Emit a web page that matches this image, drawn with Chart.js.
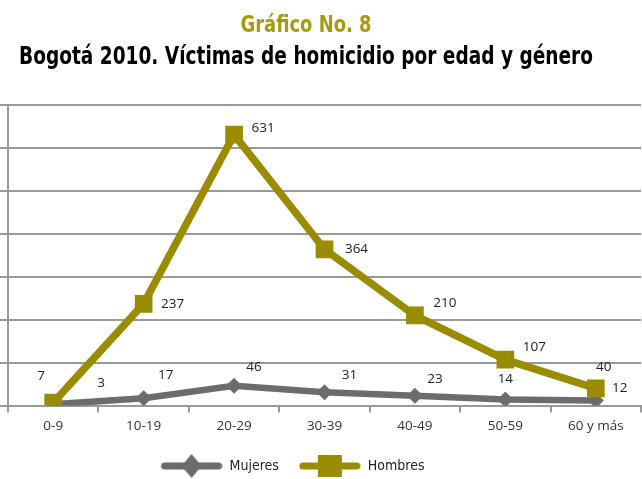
<!DOCTYPE html>
<html>
<head>
<meta charset="utf-8">
<script src="https://cdn.jsdelivr.net/npm/chart.js@4.4.0/dist/chart.umd.min.js"></script>
<style>
body{margin:0;background:#fff;}
#wrap{position:relative;width:642px;height:479px;}
.tit{position:absolute;left:306px;font-family:"DejaVu Sans Condensed","DejaVu Sans";font-stretch:condensed;font-weight:bold;line-height:1;white-space:nowrap;transform-origin:50% 50%;}
#t1{top:13px;font-size:23.5px;color:#a79b0b;}
#t2{top:43px;font-size:25px;color:#000;}
canvas{position:absolute;left:0;top:0;}
</style>
</head>
<body>
<div id="wrap">
<canvas id="grafico" width="642" height="479"></canvas>
<div class="tit" id="t1">Gráfico No. 8</div>
<div class="tit" id="t2">Bogotá 2010. Víctimas de homicidio por edad y género</div>
</div>
<script>
// datos
let edades = ['0-9','10-19','20-29','30-39','40-49','50-59','60 y más'];
let mujeres = [3,17,46,31,23,14,12];
let hombres = [7,237,631,364,210,107,40];
let escalaY = [0,700,100]; // min, max, paso

let colorMujeres = '#6b6b70';
let colorHombres = '#9a8c00';

// desplazamiento de las etiquetas respecto al punto (como en Excel)
let despMujeres = [[48,-21],[22,-23],[20,-19],[25,-17],[20,-17],[0,-20],[24,-12]];
let despHombres = [[-12,-26],[29,0],[29,-6],[32,0],[30,-12],[29,-12],[8,-21]];

// ajustar el ancho de los titulos (fuente condensada), centrados en x=306
function ajustarTitulo(id, ancho){
    let s = document.getElementById(id);
    let w = s.getBoundingClientRect().width;
    s.style.transform = 'translateX(-50%) scaleX(' + (ancho/w) + ')';
}
ajustarTitulo('t1', 131);
ajustarTitulo('t2', 574);

// marca de la leyenda: linea con el simbolo en el medio (con hueco a la izquierda)
function marcaLeyenda(color, forma){
    let c = document.createElement('canvas');
    c.width = 76; c.height = 26;
    let g = c.getContext('2d');
    g.translate(14,0);
    g.strokeStyle = color; g.lineWidth = 7; g.lineCap = 'round';
    g.beginPath(); g.moveTo(4,13); g.lineTo(58,13); g.stroke();
    g.fillStyle = color;
    if(forma=='rect'){
        g.fillRect(19,2,24,22);
    } else {
        g.beginPath(); g.moveTo(31,1); g.lineTo(41,13); g.lineTo(31,25); g.lineTo(21,13); g.closePath(); g.fill();
    }
    return c;
}

var etiquetas = {
    id:'etiquetas',
    afterLayout(chart){
        // la leyenda del original esta corrida a la izquierda y un poco mas abajo
        chart.legend.left -= 35;
        chart.legend.right -= 35;
        chart.legend.top += 4;
        chart.legend.bottom += 4;
    },
    afterDatasetsDraw(chart, args, opts){
        let ctx = chart.ctx;
        ctx.save();
        ctx.font = '13.5px "Open Sans"';
        ctx.fillStyle = '#222';
        ctx.textAlign = 'center';
        ctx.textBaseline = 'middle';
        chart.data.datasets.forEach(function(ds,i){
            let meta = chart.getDatasetMeta(i);
            meta.data.forEach(function(p,j){
                let d = opts.desp[i][j];
                ctx.fillText(ds.data[j], p.x + d[0], p.y + d[1]);
            });
        });
        ctx.restore();
    }
};

var ctx = document.getElementById('grafico').getContext('2d');
var grafico = new Chart(ctx, {
    type: 'line',
    data: {
        labels: edades,
        datasets: [{
            label: 'Mujeres',
            data: mujeres,
            borderColor: colorMujeres,
            backgroundColor: colorMujeres,
            borderWidth: 6.5,
            pointStyle: 'rectRot',
            pointRadius: 8,
            pointBorderWidth: 0,
            order: 1,
            tension: 0
        },{
            label: 'Hombres',
            data: hombres,
            borderColor: colorHombres,
            backgroundColor: colorHombres,
            borderWidth: 7.5,
            pointStyle: 'rect',
            pointRadius: 12.5,
            pointBorderWidth: 0,
            order: 0,
            tension: 0
        }]
    },
    options: {
        responsive: false,
        animation: false,
        layout: { autoPadding: false, padding: { top: 105, right: 1, left: 0, bottom: 0 } },
        scales: {
            x: {
                offset: true,
                afterFit: function(s){ s.paddingLeft = 0; s.paddingRight = 0; },
                grid: { display: true, drawOnChartArea: false, drawTicks: true, tickLength: 7, color: '#999', lineWidth: 2, offset: true },
                border: { color: '#999', width: 2 },
                ticks: { color: '#333', font: { family: 'Open Sans', size: 13.5 }, padding: 5, maxRotation: 0 },
                title: { display: true, text: ' ', font: { size: 1 }, padding: { top: 0, bottom: 9 } }
            },
            y: {
                min: escalaY[0], max: escalaY[1],
                ticks: { display: false, stepSize: escalaY[2] },
                grid: { color: '#999', lineWidth: 2, tickLength: 8 },
                border: { color: '#999', width: 2 }
            }
        },
        plugins: {
            tooltip: { enabled: false },
            etiquetas: { desp: [despMujeres, despHombres] },
            legend: {
                position: 'bottom',
                labels: {
                    usePointStyle: true,
                    pointStyleWidth: 76,
                    padding: 6,
                    color: '#222',
                    font: { family: 'DejaVu Sans Condensed', size: 14 },
                    generateLabels: function(chart){
                        return chart.data.datasets.map(function(ds,i){
                            return { text: ds.label, datasetIndex: i, fontColor: '#222', lineWidth: 0, strokeStyle: 'transparent',
                                pointStyle: marcaLeyenda(ds.borderColor, ds.pointStyle) };
                        });
                    }
                }
            }
        }
    },
    plugins: [etiquetas]
});
</script>
</body>
</html>
